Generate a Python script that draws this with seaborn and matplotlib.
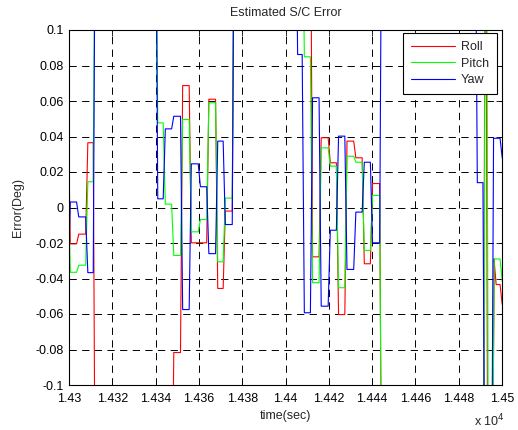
import numpy as np
import pandas as pd
import matplotlib
matplotlib.use("Agg")
import matplotlib.pyplot as plt
import seaborn as sns

# ---- data (time in units of 1e4 s, error in deg) ----
# each series: start value, then change times and the new level after each change
# (values of +/-0.2 stand for excursions beyond the plotted range)
roll_start = 0.055
roll_t = [1.42996, 1.43035, 1.43077, 1.43112, 1.43474, 1.43515, 1.43555, 1.43636,
          1.43677, 1.43712, 1.43754, 1.44115, 1.44155, 1.44197, 1.44235, 1.44274,
          1.44315, 1.44354, 1.44392, 1.44435, 1.44913, 1.44925, 1.44954, 1.44963,
          1.44991]
roll_v = [-0.0205, -0.0150, 0.0365, -0.2, -0.0817, 0.0687, -0.0199, 0.0610,
          -0.0456, -0.0020, 0.2, -0.0278, 0.0393, 0.0252, -0.0603, 0.0374,
          0.0280, -0.0317, 0.0135, -0.2, 0.2, -0.2, -0.0290, -0.0434,
          -0.0546]

pitch_start = 0.016
pitch_t = [1.42996, 1.43035, 1.43077, 1.43112, 1.43400, 1.43435, 1.43474, 1.43515,
           1.43555, 1.43597, 1.43636, 1.43677, 1.43712, 1.43754, 1.44077, 1.44115,
           1.44155, 1.44197, 1.44235, 1.44274, 1.44315, 1.44354, 1.44392, 1.44435,
           1.44914, 1.44928, 1.44954, 1.44991]
pitch_v = [-0.0365, -0.0325, 0.0145, 0.2, 0.0477, 0.0019, -0.0270, 0.0496,
           -0.0137, -0.0068, 0.0590, -0.0306, 0.0053, 0.2, 0.0849, -0.0424,
           0.0336, 0.0233, -0.0452, 0.0289, 0.0255, -0.0242, 0.0068, -0.2,
           0.2, -0.2, -0.0290, -0.0415]

yaw_start = -0.038
yaw_t = [1.42996, 1.43035, 1.43077, 1.43112, 1.43400, 1.43435, 1.43474, 1.43515,
         1.43555, 1.43597, 1.43636, 1.43677, 1.43712, 1.43754, 1.44046, 1.44077,
         1.44115, 1.44155, 1.44197, 1.44235, 1.44274, 1.44315, 1.44354, 1.44392,
         1.44435, 1.44876, 1.44912, 1.44951, 1.44991]
yaw_v = [0.0031, -0.0053, -0.0367, 0.2, 0.0049, 0.0443, 0.0514, -0.0575,
         0.0246, 0.0117, -0.0260, 0.0374, -0.0096, 0.2, 0.0862, -0.0593,
         0.0618, -0.0556, -0.0128, 0.0402, -0.0349, -0.0026, 0.0255, -0.0199,
         0.2, 0.0140, -0.2, 0.0390, 0.0280]

series_names = ["Roll", "Pitch", "Yaw"]
series_colors = ["#ff0000", "#00ff00", "#0000ff"]

x_ticks = [1.43, 1.432, 1.434, 1.436, 1.438, 1.44, 1.442, 1.444, 1.446, 1.448, 1.45]
x_ticklabels = ["1.43", "1.432", "1.434", "1.436", "1.438", "1.44", "1.442",
                "1.444", "1.446", "1.448", "1.45"]
y_ticks = [-0.1, -0.08, -0.06, -0.04, -0.02, 0, 0.02, 0.04, 0.06, 0.08, 0.1]
y_ticklabels = ["-0.1", "-0.08", "-0.06", "-0.04", "-0.02", "0", "0.02", "0.04",
                "0.06", "0.08", "0.1"]

RAMP = 0.0001  # sample interval of the logged signal


def held_path(start, times, levels, t0=1.43, t_end=1.4502):
    xs, ys = [t0], [start]
    prev = start
    for t, v in zip(times, levels):
        xs += [t, t + RAMP]
        ys += [prev, v]
        prev = v
    xs.append(t_end)
    ys.append(prev)
    return xs, ys


frames = []
for name, (s, ts, vs) in zip(series_names, [(roll_start, roll_t, roll_v),
                                            (pitch_start, pitch_t, pitch_v),
                                            (yaw_start, yaw_t, yaw_v)]):
    xs, ys = held_path(s, ts, vs)
    frames.append(pd.DataFrame({"time": xs, "err": ys, "series": name}))
df = pd.concat(frames, ignore_index=True)

# ---- figure ----
sns.set_style("white")
plt.rcParams["font.family"] = ["Liberation Sans", "DejaVu Sans"]
plt.rcParams["font.size"] = 9

fig = plt.figure(figsize=(5.18, 4.30), dpi=100)
ax = fig.add_axes([69 / 518, 1 - 385 / 430, (502 - 69) / 518, (385 - 30) / 430])

for name, col in zip(series_names, series_colors):
    sub = df[df["series"] == name]
    sns.lineplot(data=sub, x="time", y="err", ax=ax, color=col, linewidth=0.8,
                 sort=False, estimator=None, label=name)

ax.set_xlim(1.43, 1.45)
ax.set_ylim(-0.1, 0.1)
ax.set_xticks(x_ticks)
ax.set_xticklabels(x_ticklabels)
ax.set_yticks(y_ticks)
ax.set_yticklabels(y_ticklabels)
ax.tick_params(direction="in", length=4, width=0.6, top=True, right=True,
               labelsize=9, colors="black")
ax.tick_params(axis="x", pad=6)
ax.tick_params(axis="y", pad=4)
ax.grid(True, color="black", linestyle=(0, (7.5, 5.5)), linewidth=0.7)
for sp in ax.spines.values():
    sp.set_color("black")
    sp.set_linewidth(0.8)
    sp.set_visible(True)

ax.set_xlabel("time(sec)", fontsize=9, labelpad=3)
ax.set_ylabel("Error(Deg)", fontsize=9, labelpad=8)
ax.set_title("Estimated S/C Error", fontsize=9, pad=10)

leg = ax.legend(loc="upper right", bbox_to_anchor=(497 / 518, 1 - 33 / 430),
                bbox_transform=fig.transFigure, borderaxespad=0,
                frameon=True, fancybox=False, fontsize=9,
                handlelength=3.5, borderpad=0.65, labelspacing=0.36,
                handletextpad=0.45)
leg.get_frame().set_edgecolor("black")
leg.get_frame().set_linewidth(0.8)
leg.get_frame().set_alpha(1)

fig.text(474 / 518, 1 - 421 / 430, r"x 10$^{4}$", fontsize=9, va="center", ha="left")

fig.savefig("out.png", dpi=100, facecolor="white")
